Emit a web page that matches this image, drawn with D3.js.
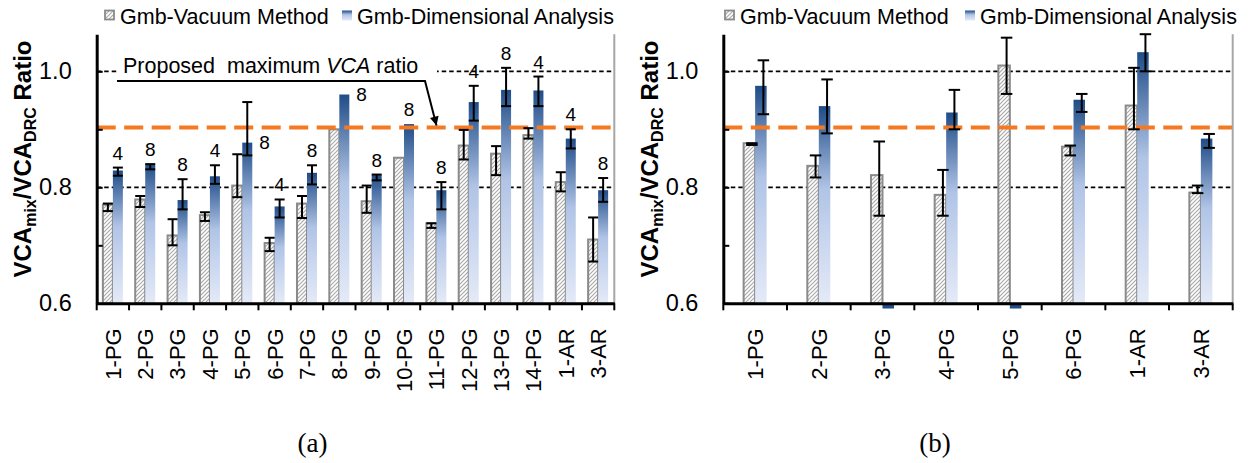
<!DOCTYPE html>
<html>
<head>
<meta charset="utf-8">
<script src="https://cdn.jsdelivr.net/npm/d3@7"></script>
<style>
  body { margin: 0; background: #fff; }
  svg { display: block; font-family: "Liberation Sans", Arial, sans-serif; }
</style>
</head>
<body>
<svg id="chart" width="1250" height="463"></svg>
<script>
// ---- data ----
const catsA = ["1-PG", "2-PG", "3-PG", "4-PG", "5-PG", "6-PG", "7-PG", "8-PG", "9-PG", "10-PG", "11-PG", "12-PG", "13-PG", "14-PG", "1-AR", "3-AR"];
const vacA   = [0.770, 0.779, 0.717, 0.752, 0.803, 0.704, 0.772, 0.900, 0.776, 0.851, 0.738, 0.872, 0.858, 0.890, 0.809, 0.710];
const vacLoA = [0.759, 0.766, 0.700, 0.742, 0.783, 0.690, 0.747, null, 0.756, null, 0.730, 0.848, 0.821, 0.884, 0.793, 0.672];
const vacHiA = [0.772, 0.785, 0.745, 0.757, 0.857, 0.713, 0.785, null, 0.803, null, 0.738, 0.899, 0.871, 0.902, 0.826, 0.748];
const dimA   = [0.829, 0.840, 0.778, 0.819, 0.877, 0.767, 0.825, 0.960, 0.821, 0.909, 0.795, 0.947, 0.968, 0.967, 0.884, 0.795];
const dimLoA = [0.820, 0.831, 0.762, 0.806, 0.855, 0.748, 0.805, null, 0.812, null, 0.762, 0.915, 0.940, 0.940, 0.867, 0.775];
const dimHiA = [0.834, 0.840, 0.814, 0.838, 0.947, 0.779, 0.838, null, 0.822, null, 0.809, 0.975, 1.006, 0.991, 0.900, 0.816];
const nLabelsA = [4, 8, 8, 4, 8, 4, 8, 8, 8, 8, 8, 4, 8, 4, 4, 8];

const catsB = ["1-PG", "2-PG", "3-PG", "4-PG", "5-PG", "6-PG", "1-AR", "3-AR"];
const vacB   = [0.876, 0.837, 0.821, 0.787, 1.010, 0.870, 0.941, 0.791];
const vacLoB = [0.873, 0.817, 0.751, 0.751, 0.961, 0.855, 0.900, 0.790];
const vacHiB = [0.876, 0.855, 0.879, 0.830, 1.058, 0.872, 1.006, 0.803];
const dimB   = [0.975, 0.940, 0.591, 0.929, 0.591, 0.951, 1.033, 0.884];
const dimLoB = [0.926, 0.893, null, 0.900, null, 0.930, 1.000, 0.868];
const dimHiB = [1.019, 0.986, null, 0.968, null, 0.961, 1.064, 0.892];

const yTicks = [0.6, 0.7, 0.8, 0.9, 1.0];
const yLabelled = [0.6, 0.8, 1.0];
const gridVals = [0.8, 1.0];
const maxRatio = 0.903;
const legendNames = ["Gmb-Vacuum Method", "Gmb-Dimensional Analysis"];

const svg = d3.select("#chart");
const y = d3.scaleLinear().domain([0.6, 1.064]).range([303.3, 34.2]);
const base = y(0.6);

// patterns / gradients
const defs = svg.append("defs");
const hatch = defs.append("pattern")
  .attr("id", "hatch").attr("patternUnits", "userSpaceOnUse")
  .attr("width", 4).attr("height", 4);
hatch.append("rect").attr("width", 4).attr("height", 4).attr("fill", "#fff");
hatch.append("path")
  .attr("d", "M0,4 L4,0 M-1,1 L1,-1 M3,5 L5,3")
  .attr("stroke", "#aaaaaa").attr("stroke-width", 1.2);

const grad = defs.append("linearGradient")
  .attr("id", "blue").attr("x1", 0).attr("y1", 0).attr("x2", 0).attr("y2", 1);
grad.append("stop").attr("offset", "0").attr("stop-color", "#1f4c88");
grad.append("stop").attr("offset", "0.42").attr("stop-color", "#b0c4e6");
grad.append("stop").attr("offset", "0.65").attr("stop-color", "#c6d4ee");
grad.append("stop").attr("offset", "1").attr("stop-color", "#e4eaf7");

defs.append("marker")
  .attr("id", "arrow").attr("viewBox", "0 0 10 10")
  .attr("refX", 10).attr("refY", 5)
  .attr("markerWidth", 11).attr("markerHeight", 9)
  .attr("markerUnits", "userSpaceOnUse").attr("orient", "auto")
  .append("path").attr("d", "M0,0 L10,5 L0,10 z").attr("fill", "#000");

function drawPanel(p) {
  const g = svg.append("g");
  const x = d3.scaleBand().domain(p.cats).range([p.left, p.right]);
  const cx = c => x(c) + x.bandwidth() / 2;
  const w = p.barW;

  // dashed grid
  g.selectAll(".grid").data(gridVals).join("line")
    .attr("x1", p.left).attr("x2", p.right)
    .attr("y1", d => y(d)).attr("y2", d => y(d))
    .attr("stroke", "#000").attr("stroke-width", 1.8)
    .attr("stroke-dasharray", "4.5,3");

  // vacuum bars
  g.selectAll(".vac").data(p.cats).join("rect")
    .attr("x", c => cx(c) - w)
    .attr("width", w)
    .attr("y", (c, i) => y(p.vac[i]))
    .attr("height", (c, i) => base - y(p.vac[i]))
    .attr("fill", "url(#hatch)")
    .attr("stroke", "#8a8a8a").attr("stroke-width", 2);

  // dimensional bars (values under 0.6 show as a stub under the axis)
  g.selectAll(".dim").data(p.cats).join("rect")
    .attr("x", c => cx(c))
    .attr("width", w)
    .attr("y", (c, i) => Math.min(y(p.dim[i]), base))
    .attr("height", (c, i) => Math.abs(base - y(p.dim[i])))
    .attr("fill", (c, i) => p.dim[i] < 0.6 ? "#1f4e89" : "url(#blue)");

  // proposed maximum ratio
  g.append("line")
    .attr("x1", p.left).attr("x2", p.right)
    .attr("y1", y(maxRatio)).attr("y2", y(maxRatio))
    .attr("stroke", "#f47920").attr("stroke-width", 4)
    .attr("stroke-dasharray", "19,8.5");

  // error bars
  const errs = [];
  p.cats.forEach((c, i) => {
    if (p.vacLo[i] != null) errs.push({ x: cx(c) - w / 2 + p.errShift, lo: p.vacLo[i], hi: p.vacHi[i] });
    if (p.dimLo[i] != null) errs.push({ x: cx(c) + w / 2 + p.errShift, lo: p.dimLo[i], hi: p.dimHi[i] });
  });
  const eg = g.append("g").attr("stroke", "#000").attr("stroke-width", 2);
  errs.forEach(e => {
    eg.append("line").attr("x1", e.x).attr("x2", e.x).attr("y1", y(e.lo)).attr("y2", y(e.hi));
    [e.lo, e.hi].forEach(v => {
      eg.append("line").attr("x1", e.x - w / 2).attr("x2", e.x + w / 2)
        .attr("y1", y(v)).attr("y2", y(v));
    });
  });

  // right frame line
  g.append("line")
    .attr("x1", p.right).attr("x2", p.right)
    .attr("y1", y.range()[1]).attr("y2", base)
    .attr("stroke", "#a6a6a6").attr("stroke-width", 2);

  // y axis
  const ya = g.append("g")
    .attr("transform", `translate(${p.left},0)`)
    .call(d3.axisLeft(y).tickValues(yTicks).tickSizeInner(-6).tickSizeOuter(0).tickPadding(25)
      .tickFormat(d => yLabelled.some(v => Math.abs(v - d) < 1e-9) ? d3.format(".1f")(d) : ""));
  ya.select(".domain").attr("stroke", "#000").attr("stroke-width", 3);
  ya.selectAll(".tick line").attr("stroke", "#000").attr("stroke-width", 2);
  ya.selectAll(".tick text").attr("font-size", 23.5).attr("fill", "#000")
    .attr("font-family", '"Liberation Sans", Arial, sans-serif');

  // x axis
  const xa = g.append("g")
    .attr("transform", `translate(0,${base})`)
    .call(d3.axisBottom(x).tickSize(0).tickSizeOuter(0));
  xa.select(".domain").attr("stroke", "#000").attr("stroke-width", 3);
  xa.selectAll(".tick text")
    .attr("transform", "rotate(-90)")
    .attr("x", -25).attr("y", 0).attr("dy", "0.36em")
    .attr("text-anchor", "end")
    .attr("font-size", 22).attr("fill", "#000")
    .attr("font-family", '"Liberation Sans", Arial, sans-serif');
  const edges = p.cats.map(c => x(c)).concat([x.range()[1]]);
  g.selectAll(".xtick").data(edges).join("line")
    .attr("x1", d => d).attr("x2", d => d)
    .attr("y1", base).attr("y2", base + 7)
    .attr("stroke", "#000").attr("stroke-width", 2);

  // sample count labels
  if (p.labels) {
    p.cats.forEach((c, i) => {
      const top = p.dimHi[i] != null ? p.dimHi[i] : p.dim[i];
      const t = g.append("text").attr("font-size", 19).attr("fill", "#000").text(p.labels[i]);
      if (p.labelRight.includes(c)) {
        t.attr("x", cx(c) + w + 7).attr("y", y(p.dim[i])).attr("dy", "0.35em").attr("text-anchor", "start");
      } else {
        t.attr("x", cx(c) + w / 2).attr("y", y(top) - 8).attr("text-anchor", "middle");
      }
    });
  }

  // legend
  const lg = g.append("g").attr("font-size", 21.5).attr("fill", "#000");
  lg.append("rect").attr("x", p.legX[0]).attr("y", 10.5).attr("width", 9).attr("height", 9)
    .attr("fill", "url(#hatch)").attr("stroke", "#8a8a8a").attr("stroke-width", 1.8);
  lg.append("text").attr("x", p.legX[0] + 15).attr("y", 24.3).text(legendNames[0]);
  lg.append("rect").attr("x", p.legX[1]).attr("y", 10.5).attr("width", 10).attr("height", 10)
    .attr("fill", "url(#blue)");
  lg.append("text").attr("x", p.legX[1] + 15).attr("y", 24.3).text(legendNames[1]);

  // y title
  const tt = g.append("text")
    .attr("transform", `translate(${p.left - 74.2},159) rotate(-90)`)
    .attr("text-anchor", "middle").attr("dy", "0.35em")
    .attr("font-size", 24).attr("font-weight", "bold").attr("fill", "#000");
  tt.append("tspan").text("VCA");
  tt.append("tspan").attr("font-size", 16).attr("dy", 5).text("mix");
  tt.append("tspan").attr("dy", -5).text("/VCA");
  tt.append("tspan").attr("font-size", 16).attr("dy", 5).text("DRC");
  tt.append("tspan").attr("dy", -5).text(" Ratio");

  // panel tag
  g.append("text")
    .attr("x", (p.left + p.right) / 2 - 43).attr("y", 452)
    .attr("text-anchor", "middle")
    .attr("font-family", '"Liberation Serif", "Times New Roman", serif')
    .attr("font-size", 27).attr("fill", "#000").text(p.tag);

  return x;
}

drawPanel({
  cats: catsA, vac: vacA, vacLo: vacLoA, vacHi: vacHiA,
  dim: dimA, dimLo: dimLoA, dimHi: dimHiA,
  labels: nLabelsA, labelRight: ["5-PG", "8-PG"],
  left: 96.7, right: 614.3, barW: 10, errShift: 0,
  legX: [105, 342], tag: "(a)"
});

drawPanel({
  cats: catsB, vac: vacB, vacLo: vacLoB, vacHi: vacHiB,
  dim: dimB, dimLo: dimLoB, dimHi: dimHiB,
  labels: null, labelRight: [],
  left: 723.3, right: 1232.7, barW: 11.5, errShift: 2.5,
  legX: [725, 965], tag: "(b)"
});

// annotation in panel (a)
const ann = svg.append("g");
ann.append("rect").attr("x", 117).attr("y", 56).attr("width", 320).attr("height", 21).attr("fill", "#fff");
const at = ann.append("text").attr("x", 123).attr("y", 72.7)
  .attr("font-size", 21.5).attr("fill", "#000").style("white-space", "pre");
at.append("tspan").text("Proposed  maximum ");
at.append("tspan").attr("font-style", "italic").text("VCA");
at.append("tspan").text(" ratio");
ann.append("path")
  .attr("d", `M117,81 H425 L436.5,${y(maxRatio) - 2}`)
  .attr("fill", "none").attr("stroke", "#000").attr("stroke-width", 2)
  .attr("marker-end", "url(#arrow)");
</script>
</body>
</html>
